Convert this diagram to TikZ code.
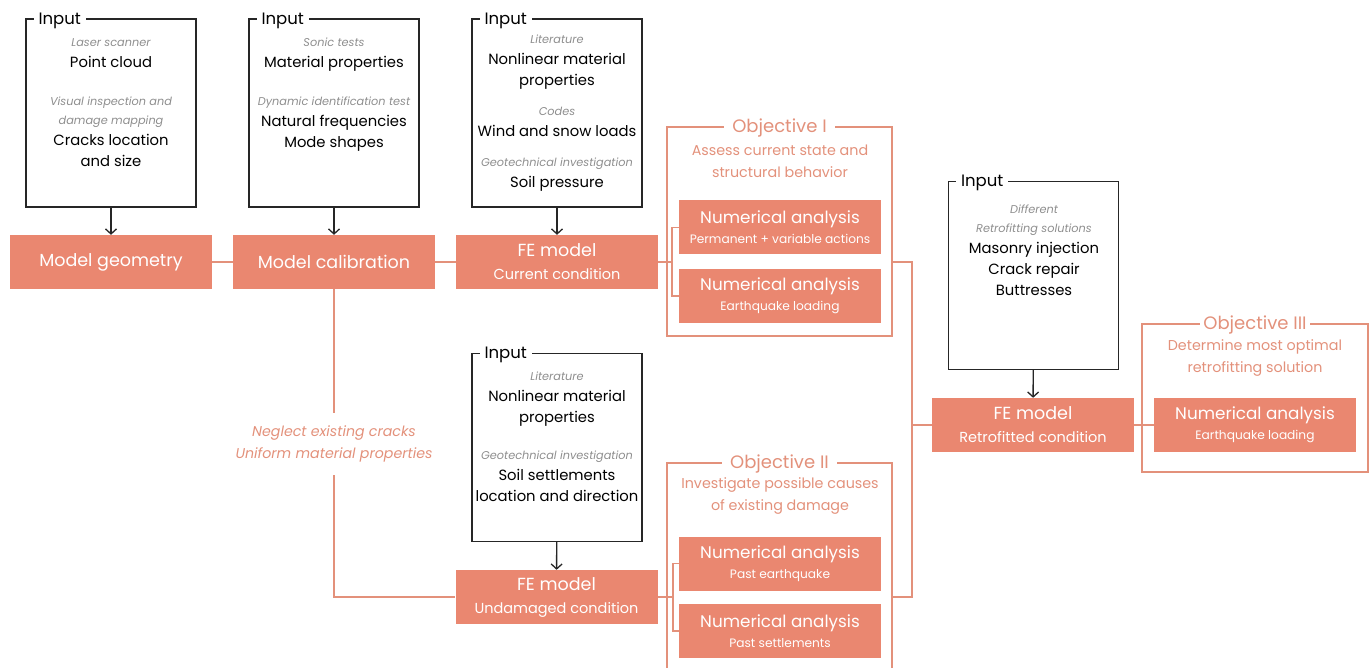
\documentclass[tikz,border=0pt]{standalone}
\usepackage{fontspec}
\setmainfont{Poppins}
\usetikzlibrary{calc}
\usetikzlibrary{arrows.meta}
\definecolor{salmon}{HTML}{EA8770}
\definecolor{objcol}{HTML}{E3917B}
\definecolor{srcgray}{HTML}{8E8E8E}
\newcommand{\src}[1]{{\fontsize{11.3}{18}\selectfont\itshape\color{srcgray}#1}}
\newcommand{\subtxt}[1]{{\fontsize{12.2}{14}\selectfont #1}}
\begin{document}
\begin{tikzpicture}[x=1pt,y=-1pt,>={Straight Barb[length=5pt,width=11pt]},
    inbox/.style={draw=black!85,line width=1.3pt,minimum width=170pt,minimum height=188pt,inner sep=0pt},
    intxt/.style={anchor=north,align=center,font=\fontsize{14.8}{21}\selectfont,inner sep=0pt},
    inlbl/.style={fill=white,anchor=west,inner xsep=5pt,inner ysep=1pt,font=\fontsize{16.5}{18}\selectfont},
    stepbox/.style={fill=salmon,text=white,minimum width=202pt,minimum height=54pt,inner sep=0pt,align=center,font=\fontsize{17.5}{23}\selectfont},
    anbox/.style={stepbox,font=\fontsize{16.8}{20}\selectfont},
    objbox/.style={draw=objcol,line width=1.2pt,inner sep=0pt},
    objlbl/.style={fill=white,text=objcol,inner xsep=8pt,inner ysep=1pt,font=\fontsize{18}{18}\selectfont},
    objtxt/.style={text=objcol,align=center,inner sep=0pt,font=\fontsize{14.3}{22}\selectfont},
    link/.style={draw=objcol,line width=1.2pt},
    feed/.style={->,draw=black!85,line width=1.3pt}]
  \useasboundingbox (0,0) rectangle (1370,668);
  %
  % input boxes
  \node[inbox] (inGeo) at (111,113) {};
  \node[inbox] (inCal) at (334,113) {};
  \node[inbox] (inCur) at (557,113) {};
  \node[inbox] (inUnd) at (557,447.5) {};
  \node[inbox] (inRet) at (1033.5,275.5) {};
  \foreach \b in {inGeo,inCal,inCur,inUnd,inRet}
    \node[inlbl] (\b Lbl) at ($(\b.north west)+(8,2.5)$) {Input};
  \node[intxt] (inGeoTxt) at (111,38) {\src{Laser scanner}\\Point cloud\\[17pt]
    \src{Visual inspection and}\\[-2pt]\src{damage mapping}\\Cracks location\\and size};
  \node[intxt] (inCalTxt) at (334,38) {\src{Sonic tests}\\Material properties\\[17pt]
    \src{Dynamic identification test}\\Natural frequencies\\Mode shapes};
  \node[intxt] (inCurTxt) at (557,35) {\src{Literature}\\Nonlinear material\\properties\\[9pt]
    \src{Codes}\\Wind and snow loads\\[9pt]\src{Geotechnical investigation}\\Soil pressure};
  \node[intxt] (inUndTxt) at (557,372) {\src{Literature}\\Nonlinear material\\properties\\[16pt]
    \src{Geotechnical investigation}\\Soil settlements\\location and direction};
  \node[intxt] (inRetTxt) at (1034,205) {\src{Different}\\[-2pt]\src{Retrofitting solutions}\\
    Masonry injection\\Crack repair\\Buttresses};
  %
  % model steps
  \node[stepbox] (geo) at (111,262) {Model geometry};
  \node[stepbox] (cal) at (334,262) {Model calibration};
  \node[stepbox] (feCur) at (557,262) {FE model\\\subtxt{\fontsize{14.5}{14}\selectfont Current condition}};
  \node[stepbox] (feUnd) at (556.5,597) {FE model\\\subtxt{\fontsize{14.5}{14}\selectfont Undamaged condition}};
  \node[stepbox] (feRet) at (1033,425) {FE model\\\subtxt{\fontsize{14.5}{14}\selectfont Retrofitted condition}};
  %
  % objectives
  \node[objbox,minimum width=225pt,minimum height=209pt] (objI) at (779.5,231.5) {};
  \node[objbox,minimum width=225pt,minimum height=220pt] (objII) at (779.5,573) {};
  \node[objbox,minimum width=226pt,minimum height=148pt] (objIII) at (1255,398) {};
  \node[objlbl] (objILbl) at ($(objI.north)+(0,2)$) {Objective I};
  \node[objlbl] (objIILbl) at ($(objII.north)+(0,2)$) {Objective II};
  \node[objlbl,inner xsep=3pt] (objIIILbl) at ($(objIII.north)+(0,2)$) {Objective III};
  \node[objtxt] (objITxt) at (780,161) {Assess current state and\\structural behavior};
  \node[objtxt] (objIITxt) at (780,496) {Investigate possible causes\\of existing damage};
  \node[objtxt] (objIIITxt) at (1255,358) {Determine most optimal\\retrofitting solution};
  \node[anbox] (naPerm) at (780,227.5) {Numerical analysis\\\subtxt{Permanent + variable actions}};
  \node[anbox] (naEq) at (780,296) {Numerical analysis\\\subtxt{Earthquake loading}};
  \node[anbox] (naPast) at (780,563.5) {Numerical analysis\\\subtxt{Past earthquake}};
  \node[anbox] (naSet) at (780,631) {Numerical analysis\\\subtxt{Past settlements}};
  \node[anbox] (naRet) at (1255,425) {Numerical analysis\\\subtxt{Earthquake loading}};
  %
  \node[text=objcol,align=center,inner xsep=0pt,inner ysep=13pt,
    font=\fontsize{14.2}{22}\selectfont\itshape] (assum) at (334,444)
    {Neglect existing cracks\\Uniform material properties};
  %
  % input arrows
  \draw[feed] (inGeo) -- (geo);
  \draw[feed] (inCal) -- (cal);
  \draw[feed] (inCur) -- (feCur);
  \draw[feed] (inUnd) -- (feUnd);
  \draw[feed] (inRet) -- (feRet);
  %
  % links
  \coordinate (brI) at (672,262);
  \coordinate (brII) at (673,597);
  \coordinate (spTop) at (912,262);
  \coordinate (spBot) at (912,597);
  \draw[link] (geo) -- (cal);
  \draw[link] (cal) -- (feCur);
  \draw[link] (feCur) -- (brI);
  \draw[link] (naPerm.west) -| (brI) |- (naEq.west);
  \draw[link] (cal) -- (assum);
  \draw[link] (assum.south) |- (feUnd);
  \draw[link] (feUnd) -- (brII);
  \draw[link] (naPast.west) -| (brII) |- (naSet.west);
  \draw[link] (objI.east |- spTop) -- (spTop) -- (spBot) -- (objII.east |- spBot);
  \draw[link] (spTop |- feRet) -- (feRet);
  \draw[link] (feRet) -- (naRet);
\end{tikzpicture}
\end{document}
